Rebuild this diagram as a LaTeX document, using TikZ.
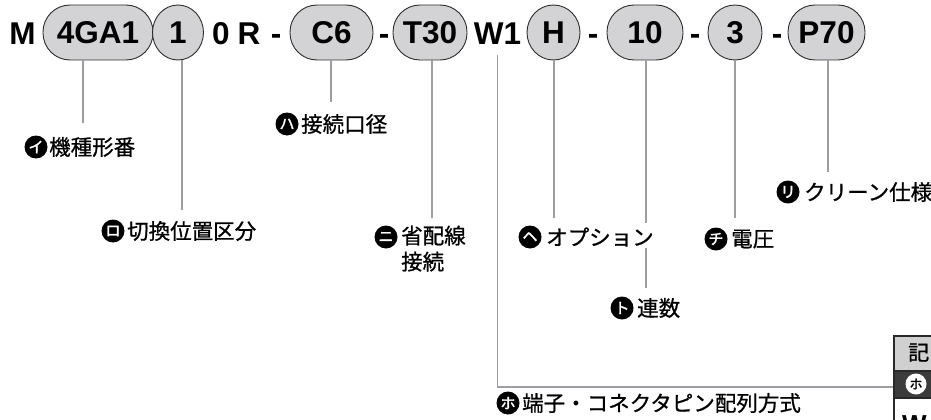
\documentclass[tikz,border=0pt]{standalone}
\usepackage{fontspec}
\setmainfont{Liberation Sans}
\newfontfamily\jp{Noto Sans CJK JP}
\newfontfamily\jpm[FakeBold=0.8]{Noto Sans CJK JP}
\newfontfamily\jpb[FakeBold=2]{Noto Sans CJK JP}
\usetikzlibrary{shapes.geometric}
\definecolor{pillgray}{RGB}{211,211,213}
\definecolor{pillline}{RGB}{45,45,45}
\definecolor{linegray}{RGB}{158,158,162}
\definecolor{tabgray}{RGB}{208,208,208}
\definecolor{tabdark}{RGB}{60,60,60}
\definecolor{tabline}{RGB}{40,40,40}
\begin{document}
\begin{tikzpicture}[x=1pt,y=-1pt,
  codetxt/.style={anchor=base, inner sep=0pt, font=\fontsize{31.5}{31.5}\selectfont\bfseries},
  pill/.style={draw=pillline, line width=0.9pt, fill=pillgray, rounded corners=27pt,
    minimum height=55pt, inner sep=0pt, font=\fontsize{31.5}{31.5}\selectfont\bfseries},
  oval/.style={ellipse, draw=pillline, line width=0.9pt, fill=pillgray,
    minimum height=55pt, inner sep=0pt, font=\fontsize{31.5}{31.5}\selectfont\bfseries},
  conn/.style={draw=linegray, line width=1.8pt},
  icon/.style={circle, fill=black, text=white, minimum size=23pt, inner sep=0pt,
    font=\jpb\fontsize{15}{15}\selectfont},
  lab/.style={anchor=west, inner sep=0pt, font=\jpm\fontsize{21.5}{26}\selectfont},
  tabrow/.style={draw=tabline, line width=1.5pt, anchor=north west, minimum width=70pt, inner sep=0pt}
]
\clip (0,0) rectangle (931,420);
% code line
\node[codetxt] (cM) at (22.5,45) {M};
\node[pill, minimum width=110pt] (p4ga1) at (98,32.5) {4GA1};
\node[oval, minimum width=51pt] (p1) at (178,32.5) {1};
\node[codetxt] (c0) at (221,45) {0};
\node[codetxt] (cR) at (249,45) {R};
\node[codetxt] (d1) at (276,45) {-};
\node[pill, minimum width=83pt] (pc6) at (331.5,32.5) {C6};
\node[codetxt] (d2) at (384,45) {-};
\node[pill, minimum width=74pt] (pt30) at (430,32.5) {T30};
\node[codetxt] (cw1) at (497.5,45) {W1};
\node[oval, minimum width=53pt] (ph) at (553.5,32.5) {H};
\node[codetxt] (d3) at (593,45) {-};
\node[pill, minimum width=76pt] (p10) at (645,32.5) {10};
\node[codetxt] (d4) at (695,45) {-};
\node[oval, minimum width=54pt] (p3) at (735,32.5) {3};
\node[codetxt] (d5) at (777,45) {-};
\node[pill, minimum width=77pt] (pp70) at (826.5,32.5) {P70};

% labels
\node[icon] (i1) at (36,147) {イ};
\node[lab] (l1) at (49,147) {機種形番};
\node[icon] (i2) at (113,231) {ロ};
\node[lab] (l2) at (127,231) {切換位置区分};
\node[icon] (i3) at (287,124) {ハ};
\node[lab] (l3) at (301,124) {接続口径};
\node[icon] (i4) at (386,237) {ニ};
\node[lab, anchor=north west, align=left] (l4) at (401,225.5) {省配線\\接続};
\node[icon] (i5) at (530,237) {ヘ};
\node[lab] (l5) at (546,237) {オプション};
\node[icon] (i6) at (622,308) {ト};
\node[lab] (l6) at (637,308) {連数};
\node[icon] (i7) at (716,239) {チ};
\node[lab] (l7) at (731,239) {電圧};
\node[icon] (i8) at (788,192) {リ};
\node[lab] (l8) at (804,192) {クリーン仕様};
\node[icon] (i9) at (508,403) {ホ};
\node[lab] (l9) at (522,403) {端子・コネクタピン配列方式};

% table
\node[tabrow, fill=tabgray, minimum height=35pt] (t1) at (893,335) {};
\node[tabrow, fill=tabdark, minimum height=27pt] (t2) at (893,370) {};
\node[tabrow, fill=white, minimum height=40pt] (t3) at (893,397) {};
\node[anchor=west, inner sep=0pt, font=\jpm\fontsize{21}{21}\selectfont] (tk) at (908,352.5) {記};
\node[circle, fill=white, text=black, minimum size=21pt, inner sep=0pt,
  font=\jpb\fontsize{13}{13}\selectfont] (ti) at (916,384) {ホ};
\node[anchor=north west, inner sep=0pt, font=\fontsize{26}{26}\selectfont\bfseries] (tw) at (902,415) {W};

% connector end points
\coordinate (e1) at (83,123);
\coordinate (e2) at (182,210);
\coordinate (e3) at (331,102);
\coordinate (e4) at (432,218);
\coordinate (e5) at (554,218);
\coordinate (e6a) at (646,223);
\coordinate (e6b) at (646,248);
\coordinate (e6c) at (646,288);
\coordinate (e7) at (735,218);
\coordinate (e8) at (828,172);
\coordinate (e9s) at (497.5,55);
\coordinate (e9) at (893,387);

\draw[conn] (e1 |- p4ga1.south) -- (e1);
\draw[conn] (e2 |- p1.south) -- (e2);
\draw[conn] (e3 |- pc6.south) -- (e3);
\draw[conn] (e4 |- pt30.south) -- (e4);
\draw[conn] (e5 |- ph.south) -- (e5);
\draw[conn] (e6a |- p10.south) -- (e6a);
\draw[conn] (e6b) -- (e6c);
\draw[conn] (e7 |- p3.south) -- (e7);
\draw[conn] (e8 |- pp70.south) -- (e8);
\draw[conn] (e9s) |- (e9);
\end{tikzpicture}
\end{document}
